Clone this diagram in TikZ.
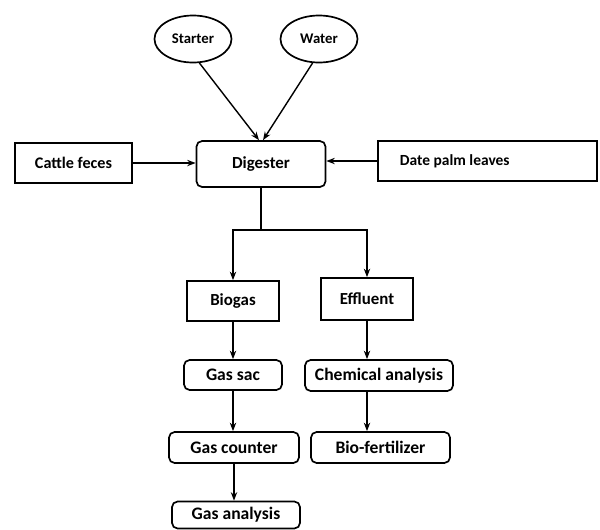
\documentclass[tikz,border=0pt]{standalone}
\usepackage{fontspec}
\setmainfont{Carlito}
\usetikzlibrary{shapes.geometric, arrows.meta, positioning, calc}

\begin{document}
\begin{tikzpicture}[
    x=0.025cm, y=-0.025cm,
    font=\bfseries\fontsize{11}{13}\selectfont,
    inbox/.style={
        rectangle,
        draw=black,
        line width=1.2pt,
        minimum width=#1,
        minimum height=1cm,
        align=center
    },
    oval/.style={
        ellipse,
        draw=black,
        line width=1.2pt,
        minimum width=1.925cm,
        minimum height=1.175cm,
        inner sep=0pt,
        font=\bfseries\fontsize{10.5}{12}\selectfont
    },
    roundbox/.style={
        rectangle,
        draw=black,
        line width=1.2pt,
        rounded corners=4pt,
        minimum width=#1,
        minimum height=0.775cm,
        align=center,
        font=\bfseries\fontsize{12.5}{14}\selectfont
    },
    arrow/.style={
        -{Stealth[length=6pt]},
        line width=1pt
    }
]

% Page
\useasboundingbox[fill=white] (0,0) rectangle (600,529);

% Inputs on top
\node[oval] (starter) at (193,39) {Starter};
\node[oval] (water) at (319,39) {Water};

% Digester and side inputs
\node[roundbox=3.225cm, minimum height=1.15cm, font=\bfseries\fontsize{12}{14}\selectfont] (digester) at (261,164) {Digester};
\node[inbox=2.925cm, font=\bfseries\fontsize{11.5}{13}\selectfont] (cattle) at (73.5,163) {Cattle feces};
\node[inbox=5.475cm, inner xsep=0.55cm, text width=4.375cm, align=flush left] (palm) at (487.5,161) {Date palm leaves};

% Products
\node[inbox=2.3cm, font=\bfseries\fontsize{12}{14}\selectfont] (biogas) at (233,301) {Biogas};
\node[inbox=2.3cm, minimum height=1.05cm, font=\bfseries\fontsize{12}{14}\selectfont] (effluent) at (367,299) {Effluent};

% Gas line
\node[roundbox=2.45cm, minimum height=0.75cm] (gassac) at (233,375) {Gas sac};
\node[roundbox=3.25cm] (gascounter) at (234,447.5) {Gas counter};
\node[roundbox=3.2cm, minimum height=0.675cm] (gasanalysis) at (236,515) {Gas analysis};

% Effluent line
\node[roundbox=3.7cm] (chemical) at (379,375.5) {Chemical analysis};
\node[roundbox=3.475cm] (biofert) at (380.5,447.5) {Bio-fertilizer};

% Arrows into digester
\draw[arrow] (starter.-75) -- ([xshift=-0.05cm]digester.north);
\draw[arrow] (water.-105) -- ([xshift=0.05cm]digester.north);
\draw[arrow] (cattle.east) -- (cattle.east -| digester.west);
\draw[arrow] (palm.west) -- (palm.west -| digester.east);

% Split below digester
\coordinate (split) at (261,230);
\draw[line width=1pt] (digester.south) -- (split);
\draw[arrow] (split) -| (biogas.north);
\draw[arrow] (split) -| (effluent.north);

% Chains
\draw[arrow] (biogas.south) -- (gassac.north);
\draw[arrow] (gassac.south) -- (gassac.south |- gascounter.north);
\draw[arrow] (gascounter.south) -- (gascounter.south |- gasanalysis.north);
\draw[arrow] (effluent.south) -- (effluent.south |- chemical.north);
\draw[arrow] (effluent.south |- chemical.south) -- (effluent.south |- biofert.north);

\end{tikzpicture}
\end{document}
